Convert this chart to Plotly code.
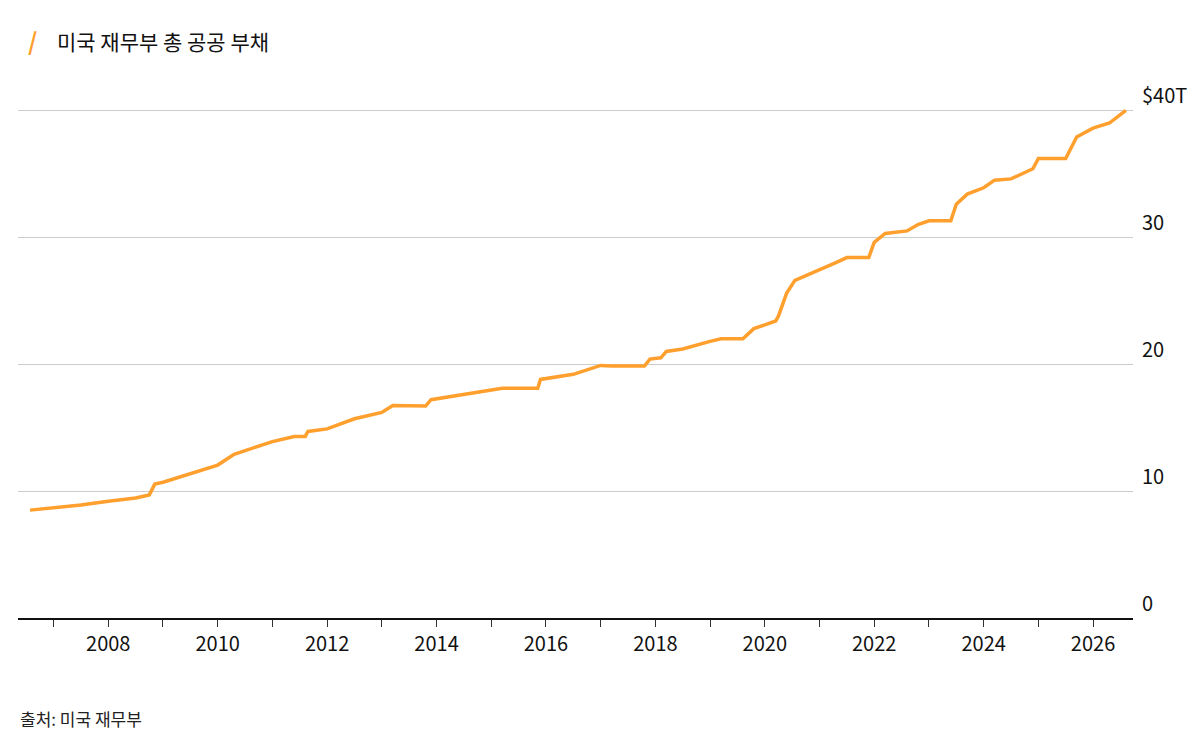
import plotly.graph_objects as go

# decimal year, debt in trillions USD
years = [2006.57, 2007.5, 2008.0, 2008.5, 2008.75, 2008.85, 2009.0, 2009.5, 2010.0, 2010.3,
         2011.0, 2011.4, 2011.6, 2011.65, 2012.0, 2012.5, 2013.0, 2013.2, 2013.8, 2013.9,
         2014.5, 2015.0, 2015.2, 2015.85, 2015.9, 2016.5, 2017.0, 2017.2, 2017.8, 2017.9,
         2018.1, 2018.2, 2018.5, 2019.0, 2019.2, 2019.6, 2019.8, 2020.0, 2020.2, 2020.25,
         2020.4, 2020.55, 2021.0, 2021.3, 2021.5, 2021.9, 2021.95, 2022.0, 2022.2, 2022.6,
         2022.8, 2023.0, 2023.4, 2023.5, 2023.7, 2024.0, 2024.2, 2024.5, 2024.9, 2025.0,
         2025.5, 2025.7, 2026.0, 2026.3, 2026.6]
debt = [8.5, 8.9, 9.2, 9.45, 9.7, 10.55, 10.7, 11.4, 12.05, 12.9,
        13.9, 14.3, 14.3, 14.7, 14.9, 15.7, 16.2, 16.75, 16.7, 17.2,
        17.6, 18.0, 18.1, 18.1, 18.8, 19.2, 19.9, 19.85, 19.85, 20.4,
        20.5, 21.0, 21.2, 21.8, 22.0, 22.0, 22.8, 23.1, 23.4, 23.8,
        25.6, 26.6, 27.4, 28.0, 28.4, 28.4, 29.0, 29.6, 30.3, 30.5,
        31.0, 31.3, 31.3, 32.6, 33.4, 33.9, 34.5, 34.6, 35.4, 36.2,
        36.2, 37.9, 38.6, 39.0, 40.0]

tick_years = list(range(2007, 2027))
tick_labels = [str(y) if y % 2 == 0 else "" for y in tick_years]
y_ticks = [0, 10, 20, 30, 40]
y_labels = ["0", "10", "20", "30", "$40T"]

fig = go.Figure(go.Scatter(x=years, y=debt, mode="lines",
                           line=dict(color="#ff9f2e", width=3.5), hoverinfo="skip"))

font = "Noto Sans CJK KR"
fig.update_layout(
    width=1200, height=751, plot_bgcolor="white", paper_bgcolor="white",
    margin=dict(l=10, r=75, t=96, b=141), showlegend=False,
    font=dict(family=font, size=20, color="#111"),
    xaxis=dict(range=[2006.35, 2026.73], tickvals=tick_years, ticktext=tick_labels,
               ticks="outside", ticklen=7, tickcolor="#333", showgrid=False,
               showline=True, linecolor="#111", linewidth=1.5, zeroline=False,
               automargin=False),
    yaxis=dict(range=[0, 40.5], side="right", tickvals=y_ticks, ticktext=y_labels,
               gridcolor="#cccccc", gridwidth=1.2, zeroline=False, showline=False,
               ticklabelshift=-14, ticklabelstandoff=8, automargin=False),
)
fig.add_annotation(x=0.007, y=1.123, xref="paper", yref="paper", xanchor="left",
                   yanchor="middle", showarrow=False, text="<b>/</b>",
                   font=dict(size=24, color="#ff9f2e", family=font))
fig.add_annotation(x=0.033, y=1.123, xref="paper", yref="paper", xanchor="left",
                   yanchor="middle", showarrow=False, text="미국 재무부 총 공공 부채",
                   font=dict(size=21, color="#111", family=font))
fig.add_annotation(x=0.0, y=-0.195, xref="paper", yref="paper", xanchor="left",
                   yanchor="middle", showarrow=False, text="출처: 미국 재무부",
                   font=dict(size=17, color="#222", family=font))
fig.write_html("out.html")
